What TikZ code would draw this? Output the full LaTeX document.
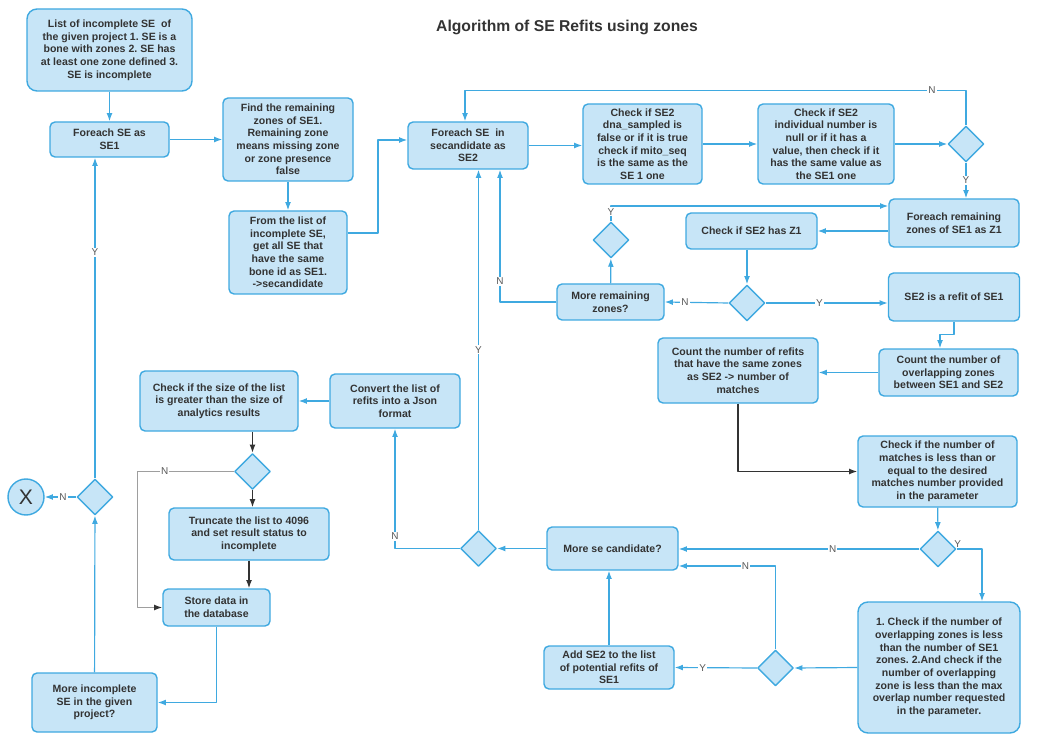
\documentclass[tikz,border=0pt]{standalone}
\usepackage{fontspec}
\setmainfont{Liberation Sans}
\usepackage{tikz}
\usetikzlibrary{arrows.meta,shapes.geometric}
\frenchspacing
\definecolor{boxfill}{HTML}{C7E5F7}
\definecolor{boxline}{HTML}{3FA9E0}
\definecolor{txt}{HTML}{333333}
\definecolor{lblgray}{HTML}{595959}
\definecolor{nline}{HTML}{9E9E9E}
\newcommand{\boxfont}{\fontsize{9}{10.8}\selectfont\bfseries}
\newcommand{\lblfont}{\fontsize{8.5}{10}\selectfont}
\tikzset{
  every picture/.style={line join=round, >={Latex[length=7pt,width=5pt]}},
  box/.style={draw=boxline, fill=boxfill, line width=1.2pt, rounded corners=0.15cm, align=center, text=txt, font=\boxfont, inner xsep=2pt, inner ysep=1pt},
  bigbox/.style={box, rounded corners=0.3cm},
  dec/.style={diamond, draw=boxline, fill=boxfill, line width=1.2pt, minimum width=1.08cm, minimum height=1.08cm, inner sep=0pt},
  sz/.style 2 args={minimum width=#1*0.03cm, minimum height=#2*0.03cm},
  arr/.style={->, draw=boxline, line width=1pt},
  darr/.style={->, draw=txt, line width=1pt},
  lbl/.style={fill=white, text=lblgray, font=\lblfont, inner sep=1pt},
}

\begin{document}
\begin{tikzpicture}[x=0.03cm,y=-0.03cm]
\useasboundingbox (0,0) rectangle (1038,738);
\node[text=txt,font=\fontsize{13.4}{16}\selectfont\bfseries] (title) at (567,27) {Algorithm of SE Refits using zones};

% left column
\node[bigbox,sz={165}{82}] (list) at (109.5,50) {List of incomplete SE\ \ of\\the given project 1. SE is a\\bone with zones 2. SE has\\at least one zone defined 3.\\SE is incomplete};
\node[box,sz={119}{35}] (fe1) at (109.5,139.5) {Foreach SE as\\SE1};
\node[box,sz={130}{83}] (find) at (288,139.5) {Find the remaining\\zones of SE1.\\Remaining zone\\means missing zone\\or zone presence\\false};
\node[box,sz={118}{83}] (from) at (288,252.5) {From the list of\\incomplete SE,\\get all SE that\\have the same\\bone id as SE1.\\->secandidate};

% top row
\node[box,sz={120}{47}] (fe2) at (468,145.5) {Foreach SE\ \ in\\secandidate as\\SE2};
\node[box,sz={119}{80}] (dna) at (642.5,144) {Check if SE2\\dna\_sampled is\\false or if it is true\\check if mito\_seq\\is the same as the\\SE 1 one};
\node[box,sz={136}{80}] (indiv) at (826,144) {Check if SE2\\individual number is\\null or if it has a\\value, then check if it\\has the same value as\\the SE1 one};
\node[dec] (d1) at (966,144) {};

% zones loop
\node[box,sz={130}{48}] (fe3) at (954,223) {Foreach remaining\\zones of SE1 as Z1};
\node[box,sz={131}{36}] (hasz) at (751.5,231) {Check if SE2 has Z1};
\node[dec] (d2) at (747,303) {};
\node[box,sz={107}{36}] (morez) at (610.5,302) {More remaining\\zones?};
\node[dec] (d3) at (611,240) {};
\node[box,sz={131}{48}] (refit) at (954,297) {SE2 is a refit of SE1};
\node[box,sz={139}{47}] (overlap) at (948.5,372.5) {Count the number of\\overlapping zones\\between SE1 and SE2};
\node[box,sz={160}{65}] (count) at (738,370.5) {Count the number of refits\\that have the same zones\\as SE2 -> number of\\matches};
\node[box,sz={159}{71}] (match) at (937.5,471.5) {Check if the number of\\matches is less than or\\equal to the desired\\matches number provided\\in the parameter};
\node[dec] (d4) at (938,549) {};
\node[bigbox,sz={162}{131}] (chkov) at (939,667.5) {1. Check if the number of\\overlapping zones is less\\than the number of SE1\\zones. 2.And check if the\\number of overlapping\\zone is less than the max\\overlap number requested\\in the parameter.};
\node[dec] (d5) at (775.5,668) {};
\node[box,sz={130}{43}] (add) at (609,667.5) {Add SE2 to the list\\of potential refits of\\SE1};
\node[box,sz={131}{43}] (morese) at (612.5,548.5) {More se candidate?};
\node[dec] (d6) at (478.5,548.5) {};

% output part
\node[box,sz={130}{54}] (json) at (395,401) {Convert the list of\\refits into a Json\\format};
\node[box,sz={158}{60}] (size) at (219,401) {Check if the size of the list\\is greater than the size of\\analytics results};
\node[dec] (d7) at (252.5,471.5) {};
\node[box,sz={160}{52}] (trunc) at (249,534) {Truncate the list to 4096\\and set result status to\\incomplete};
\node[box,sz={107}{37}] (store) at (216.5,607.5) {Store data in\\the database};
\node[box,sz={125}{59}] (moreinc) at (94.5,702.5) {More incomplete\\SE in the given\\project?};
\node[dec] (d8) at (95,497) {};
\node[circle,draw=boxline,fill=boxfill,line width=1.2pt,minimum size=1.08cm,inner sep=0pt,text=txt,font=\fontsize{18}{20}\selectfont] (stop) at (26,497) {X};

% connectors
\draw[arr] (list) -- (fe1);
\draw[arr] (fe1) -- (find);
\draw[arr] (find) -- (from);
\draw[arr] ([yshift=0.585cm]from.east) -| (378,186) |- ([yshift=0.165cm]fe2.west);
\draw[arr] (fe2.east) -- (fe2.east -| dna.west);
\draw[arr] (dna) -- (indiv);
\draw[arr] (indiv) -- (d1);
\draw[arr] (d1.south) -- (d1.south |- fe3.north) node[lbl,midway]{Y};
\draw[arr] (d1.north) -- ++(0,-35) -| ([xshift=-0.09cm]fe2.north) node[lbl,pos=0.034]{N};
\draw[arr] (fe3.west |- hasz) -- (hasz.east);
\draw[arr] (hasz.south -| d2) -- (d2.north);
\draw[arr] (d2.west) -- (morez.east) node[lbl,pos=0.68]{N};
\draw[arr] (d2.east) -- (d2.east -| refit.west) node[lbl,pos=0.44]{Y};
\draw[arr] (refit.south) -- ++(0,13) -| ([xshift=-0.255cm]overlap.north);
\draw[arr] (overlap.west) -- (overlap.west -| count.east);
\draw[darr] (count.south) |- (match.west);
\draw[arr] (morez) -- (d3);
\draw[arr] (d3.north) |- ([yshift=0.51cm]fe3.west) node[lbl,pos=0.31]{Y};
\draw[arr] (morez.west) -| ([xshift=0.96cm]fe2.south) node[lbl,pos=0.579]{N};
\draw[arr] (d6.north) -- (d6.north |- fe2.south) node[lbl,midway]{Y};
\draw[arr] (match) -- (d4);
\draw[arr] (d4.east) -| ([xshift=1.29cm]chkov.north) node[lbl,pos=0.02,above,fill=none]{Y};
\draw[arr] (d4.west) -- (d4.west -| morese.east) node[lbl,pos=0.36]{N};
\draw[arr] (chkov.west) -- (d5.east);
\draw[arr] (d5.north) |- ([yshift=-0.525cm]morese.east) node[lbl,pos=0.655]{N};
\draw[arr] (d5.west) -- (add.east) node[lbl,pos=0.66]{Y};
\draw[arr] (add.north) -- (add.north |- morese.south);
\draw[arr] (morese) -- (d6);
\draw[arr] (d6.west) -| (json.south) node[lbl,pos=0.55]{N};
\draw[arr] (json) -- (size);
\draw[darr] (d7.north |- size.south) -- (d7.north);
\draw[darr] (d7.south) -- (d7.south |- trunc.north);
\draw[nline,line width=1pt,-{Latex[length=7pt,width=5pt,color=txt]}] (d7.west) -- ++(-96,0) node[lbl,pos=0.72]{N} |- (store.west);
\draw[darr] (trunc.south) -- (trunc.south |- store.north);
\draw[arr] (store.south) |- (moreinc.east);
\draw[arr] (moreinc) -- (d8);
\draw[arr] (d8.west) -- (stop.east) node[lbl,pos=0.42]{N};
\draw[arr] (d8.north) -- (d8.north |- fe1.south) node[lbl,pos=0.705]{Y};
\end{tikzpicture}
\end{document}
